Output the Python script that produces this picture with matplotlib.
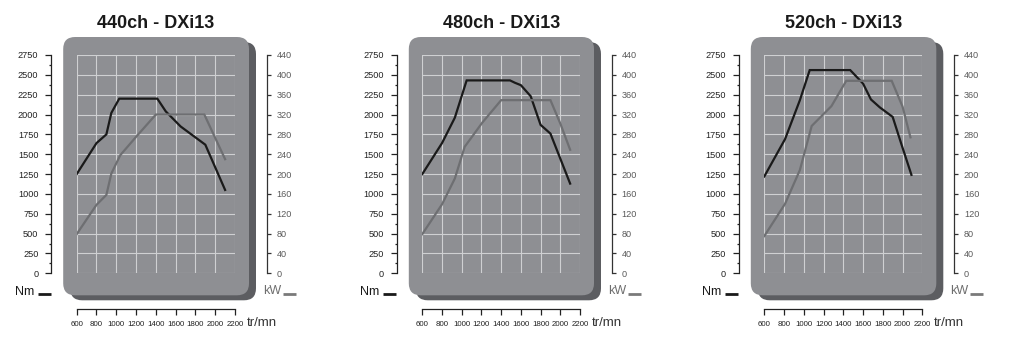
import matplotlib
matplotlib.use("Agg")
import matplotlib.pyplot as plt
from matplotlib.patches import FancyBboxPatch
from matplotlib.ticker import MultipleLocator, FixedLocator

# ---------------- data ----------------
titles = ["440ch - DXi13", "480ch - DXi13", "520ch - DXi13"]

rpm_440_torque = [600, 800, 900, 950, 1030, 1415, 1500, 1650, 1900, 2100]
torque_440 = [1250, 1640, 1750, 2020, 2200, 2200, 2040, 1850, 1620, 1050]
rpm_440_power = [600, 800, 900, 950, 1040, 1200, 1400, 1890, 2100]
power_440 = [79, 138, 158, 201, 238, 275, 320, 320, 230]

rpm_480_torque = [600, 800, 930, 1050, 1490, 1540, 1600, 1700, 1800, 1900, 2100]
torque_480 = [1250, 1640, 1960, 2430, 2430, 2400, 2370, 2230, 1870, 1760, 1130]
rpm_480_power = [600, 800, 930, 1030, 1210, 1400, 1900, 2000, 2100]
power_480 = [79, 139, 191, 255, 304, 349, 349, 302, 249]

rpm_520_torque = [600, 810, 960, 1060, 1470, 1600, 1680, 1770, 1900, 1990, 2090]
torque_520 = [1220, 1690, 2180, 2560, 2560, 2390, 2190, 2090, 1970, 1620, 1240]
rpm_520_power = [600, 810, 960, 1080, 1280, 1430, 1890, 2000, 2080]
power_520 = [75, 140, 208, 297, 337, 388, 388, 336, 274]

x_ticks = [600, 800, 1000, 1200, 1400, 1600, 1800, 2000, 2200]
nm_ticks = [0, 250, 500, 750, 1000, 1250, 1500, 1750, 2000, 2250, 2500, 2750]
kw_ticks = [0, 40, 80, 120, 160, 200, 240, 280, 320, 360, 400, 440]

panels = [
    (titles[0], rpm_440_torque, torque_440, rpm_440_power, power_440),
    (titles[1], rpm_480_torque, torque_480, rpm_480_power, power_480),
    (titles[2], rpm_520_torque, torque_520, rpm_520_power, power_520),
]

# ---------------- layout (pixels) ----------------
W, H = 1017, 355
panel_x = [(76.7, 235.0), (422.3, 580.0), (764.3, 922.3)]
y_top, y_bot = 55.0, 273.3

BOX = "#8e8f93"
SHADOW = "#5c5d61"
GRID = "#cfd0d2"
TORQUE_C = "#1a1a1a"
POWER_C = "#6e6f72"
PX2PT = 72.0 / 100.0

fig = plt.figure(figsize=(W / 100, H / 100), dpi=100)
fig.patch.set_facecolor("white")

bg = fig.add_axes([0, 0, 1, 1], zorder=-5)
bg.set_xlim(0, W)
bg.set_ylim(H, 0)
bg.axis("off")

FONT = ["Liberation Sans", "DejaVu Sans"]

for (title, rt, tq, rp, pw), (x0, x1) in zip(panels, panel_x):
    # background box with shadow
    bx0, bx1 = x0 - 13.5, x1 + 14
    by0, by1 = y_top - 18, y_bot + 22
    shadow = FancyBboxPatch((bx0 + 7, by0 + 5), bx1 - bx0, by1 - by0,
                            boxstyle="round,pad=0,rounding_size=12",
                            fc=SHADOW, ec="none")
    box = FancyBboxPatch((bx0, by0), bx1 - bx0, by1 - by0,
                         boxstyle="round,pad=0,rounding_size=12",
                         fc=BOX, ec="none")
    bg.add_patch(shadow)
    bg.add_patch(box)

    # title
    bg.text((x0 + x1) / 2, 23, title, ha="center", va="center",
            fontsize=13, fontweight="bold", family=FONT, color="#1a1a1a")

    # legend labels
    bg.text(x0 - 62, 292, "Nm", ha="left", va="center", fontsize=9,
            family=FONT, color="#1a1a1a")
    bg.plot([x0 - 39, x0 - 26], [294, 294], color=TORQUE_C, lw=2.0,
            solid_capstyle="butt")
    bg.text(x1 + 28, 291, "kW", ha="left", va="center", fontsize=9,
            family=FONT, color="#6e6e6e")
    bg.plot([x1 + 48, x1 + 61], [294, 294], color="#7a7a7a", lw=2.0,
            solid_capstyle="butt")
    bg.text(x1 + 12, 323, "tr/mn", ha="left", va="center", fontsize=9.5,
            family=FONT, color="#333333")

    # main axes = data area
    ax = fig.add_axes([x0 / W, (H - y_bot) / H, (x1 - x0) / W,
                       (y_bot - y_top) / H])
    ax.set_facecolor("none")
    ax.set_xlim(600, 2200)
    ax.set_ylim(0, 2750)
    ax.xaxis.set_major_locator(FixedLocator(x_ticks))
    ax.yaxis.set_major_locator(FixedLocator(nm_ticks))
    ax.yaxis.set_minor_locator(MultipleLocator(125))
    ax.set_xticklabels([str(v) for v in x_ticks])
    ax.set_yticklabels([str(v) for v in nm_ticks])
    ax.grid(True, which="major", color=GRID, lw=0.8)
    ax.set_axisbelow(True)

    for s in ["top", "right"]:
        ax.spines[s].set_visible(False)
    ax.spines["left"].set_position(("outward", 25.5 * PX2PT))
    ax.spines["bottom"].set_position(("outward", 35.7 * PX2PT))
    ax.spines["left"].set_color("#222222")
    ax.spines["bottom"].set_color("#222222")
    ax.spines["left"].set_linewidth(0.9)
    ax.spines["bottom"].set_linewidth(0.9)
    ax.tick_params(axis="y", which="major", length=4.2, width=0.9,
                   color="#222222", pad=5, labelsize=6.6, labelcolor="#222222")
    ax.tick_params(axis="y", which="minor", length=1.8, width=0.9,
                   color="#222222")
    ax.tick_params(axis="x", which="major", length=4.2, width=0.9,
                   color="#222222", pad=4.5, labelsize=5.7, labelcolor="#222222")
    for lab in ax.get_yticklabels() + ax.get_xticklabels():
        lab.set_family(FONT)

    ax.plot(rt, tq, color=TORQUE_C, lw=1.6, zorder=4, solid_joinstyle="miter")

    # right axis (kW)
    ax2 = ax.twinx()
    ax2.set_ylim(0, 440)
    ax2.yaxis.set_major_locator(FixedLocator(kw_ticks))
    ax2.set_yticklabels([str(v) for v in kw_ticks])
    for s in ["top", "left", "bottom"]:
        ax2.spines[s].set_visible(False)
    ax2.spines["right"].set_position(("outward", 32 * PX2PT))
    ax2.spines["right"].set_color("#333333")
    ax2.spines["right"].set_linewidth(0.9)
    ax2.tick_params(axis="y", length=2.6, width=0.9, color="#333333", pad=4.3,
                    labelsize=6.6, labelcolor="#5a5a5a")
    for lab in ax2.get_yticklabels():
        lab.set_family(FONT)
    ax2.plot(rp, pw, color=POWER_C, lw=1.6, zorder=3, solid_joinstyle="miter")

fig.savefig("out.png", dpi=100, facecolor="white")
